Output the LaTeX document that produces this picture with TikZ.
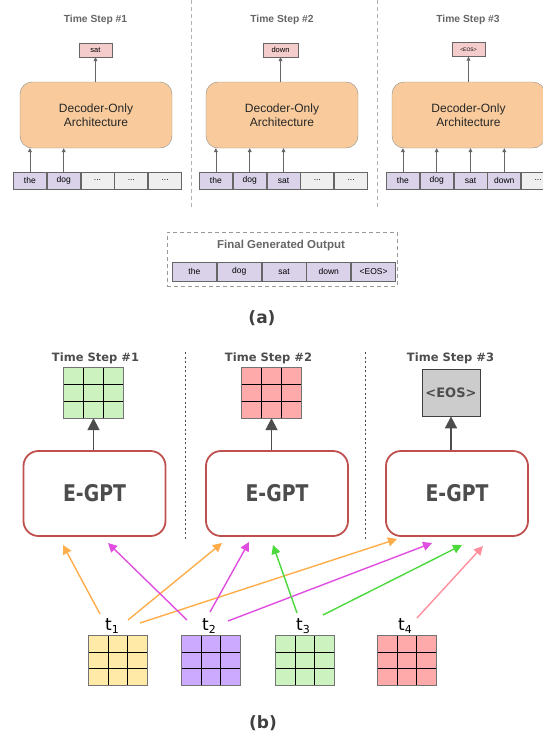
\documentclass[tikz,border=0pt]{standalone}
\usepackage{fontspec}
\setmainfont{Liberation Sans}
\newfontfamily\dvs{DejaVu Sans}
\usetikzlibrary{calc,arrows.meta}
\definecolor{gsix}{HTML}{666666}
\definecolor{gdark}{HTML}{4D4D4D}
\definecolor{decfill}{HTML}{F9CB9C}
\definecolor{outfill}{HTML}{F4CCCC}
\definecolor{tokpur}{HTML}{D9D2E9}
\definecolor{tokgray}{HTML}{EFEFEF}
\definecolor{egred}{HTML}{C0504D}
\definecolor{gridgreen}{HTML}{CCF2C0}
\definecolor{gridpink}{HTML}{FFAAAA}
\definecolor{gridyellow}{HTML}{FFEAA7}
\definecolor{gridpurple}{HTML}{CBAAFF}
\definecolor{eosgray}{HTML}{CCCCCC}
\definecolor{arrorange}{HTML}{FFAD4A}
\definecolor{arrmagenta}{HTML}{E04EE0}
\definecolor{arrgreen}{HTML}{4BD93B}
\definecolor{arrpink}{HTML}{FF8F9C}
\newcommand\gridlines[1]{%
  \foreach \k in {1,2} {%
    \draw[black, line width=0.8pt] ($(#1.north west)!\k/3!(#1.north east)$) -- ($(#1.south west)!\k/3!(#1.south east)$);
    \draw[black, line width=0.8pt] ($(#1.north west)!\k/3!(#1.south west)$) -- ($(#1.north east)!\k/3!(#1.south east)$);
  }%
  \draw[black!55, line width=0.8pt] (#1.north west) rectangle (#1.south east);%
}
\begin{document}
\begin{tikzpicture}[x=1pt,y=-1pt,
  atitle/.style={font=\bfseries\fontsize{10.3}{12}\selectfont, text=gsix},
  decbox/.style={draw=black!45, fill=decfill, rounded corners=12pt, minimum width=152pt, minimum height=66pt, inner sep=0, align=center, font=\fontsize{12}{13.5}\selectfont, text=black!85},
  outbox/.style={draw=gsix, fill=outfill, minimum width=33pt, minimum height=14pt, inner sep=0, font=\fontsize{7.5}{8}\selectfont},
  tokp/.style={draw=gsix, line width=0.8pt, fill=tokpur, minimum width=33pt, minimum height=17pt, inner sep=0, anchor=west, font=\fontsize{8.5}{9}\selectfont},
  tokg/.style={tokp, fill=tokgray},
  fincell/.style={tokp, minimum width=44pt, minimum height=19pt},
  aarrow/.style={draw=gsix, line width=0.7pt, -{Triangle[length=4pt,width=4pt]}},
  asep/.style={draw=black!30, dashed, line width=0.7pt, dash pattern=on 4pt off 3pt},
  btitle/.style={font=\dvs\bfseries\fontsize{11.5}{13}\selectfont, text=gdark},
  egpt/.style={draw=egred, line width=1.8pt, fill=white, rounded corners=15pt, minimum width=142pt, minimum height=85pt, inner sep=0, font=\dvs\bfseries\fontsize{23}{25}\selectfont, text=gdark},
  gbox/.style={minimum width=58pt, minimum height=49pt, inner sep=0, fill=#1},
  thick arr/.style={draw=gdark, line width=1.8pt, -{Triangle[length=12pt,width=12pt]}},
  carr/.style={draw=#1, line width=1.4pt, -{Triangle[length=9pt,width=9pt]}},
  tlab/.style={font=\dvs\fontsize{17}{17}\selectfont, inner sep=0, anchor=base},
  bsep/.style={draw=gdark, line width=1pt, dash pattern=on 2pt off 2.5pt}
]
\useasboundingbox (0,0) rectangle (543,740);

% ---------------- (a) ----------------
\draw[asep] (191,0) -- (191,210);
\draw[asep] (377,0) -- (377,210);

\node[atitle] (at1) at (95.5,19.5) {Time Step \#1};
\node[atitle] (at2) at (282,19.5) {Time Step \#2};
\node[atitle] (at3) at (468,19.5) {Time Step \#3};

\node[outbox] (o1) at (95.5,50) {sat};
\node[outbox, minimum width=35pt] (o2) at (280.5,50) {down};
\node[outbox, font=\fontsize{5}{6}\selectfont] (o3) at (468.5,49.5) {<EOS>};

\node[decbox] (d1) at (96,115) {Decoder-Only\\Architecture};
\node[decbox] (d2) at (282,115) {Decoder-Only\\Architecture};
\node[decbox, minimum width=153pt] (d3) at (468.5,115) {Decoder-Only\\Architecture};

\draw[aarrow] (d1.north -| o1.south) -- (o1.south);
\draw[aarrow] (d2.north -| o2.south) -- (o2.south);
\draw[aarrow] (d3.north -| o3.south) -- (o3.south);

% token rows
\node[tokp] (r1a) at (13,180.5) {the};
\node[tokp] (r1b) at (r1a.east) {dog};
\node[tokg] (r1c) at (r1b.east) {...};
\node[tokg] (r1d) at (r1c.east) {...};
\node[tokg] (r1e) at (r1d.east) {...};

\node[tokp] (r2a) at (199,180.5) {the};
\node[tokp] (r2b) at (r2a.east) {dog};
\node[tokp] (r2c) at (r2b.east) {sat};
\node[tokg] (r2d) at (r2c.east) {...};
\node[tokg] (r2e) at (r2d.east) {...};

\node[tokp] (r3a) at (386,180.5) {the};
\node[tokp] (r3b) at (r3a.east) {dog};
\node[tokp] (r3c) at (r3b.east) {sat};
\node[tokp] (r3d) at (r3c.east) {down};
\node[tokg] (r3e) at (r3d.east) {...};

\foreach \c in {r1a,r1b} \draw[aarrow] (\c.north) -- (\c.north |- d1.south);
\foreach \c in {r2a,r2b,r2c} \draw[aarrow] (\c.north) -- (\c.north |- d2.south);
\foreach \c in {r3a,r3b,r3c,r3d} \draw[aarrow] (\c.north) -- (\c.north |- d3.south);

% final output
\node[draw=black!40, dashed, dash pattern=on 4pt off 3pt, line width=0.7pt, minimum width=230pt, minimum height=54pt, inner sep=0] (fin) at (282,259) {};
\node[atitle, font=\bfseries\fontsize{11.5}{13}\selectfont] (fint) at (281,246) {Final Generated Output};
\node[fincell] (f1) at (172,271.5) {the};
\node[fincell] (f2) at (f1.east) {dog};
\node[fincell] (f3) at (f2.east) {sat};
\node[fincell] (f4) at (f3.east) {down};
\node[fincell] (f5) at (f4.east) {<EOS>};

\node[font=\dvs\bfseries\fontsize{17}{17}\selectfont, text=black!75] (la) at (262,318) {(a)};

% ---------------- (b) ----------------
\draw[bsep] (185,352) -- (185,540);
\draw[bsep] (365,352) -- (365,540);

\node[btitle] (bt1) at (95.5,358) {Time Step \#1};
\node[btitle] (bt2) at (268.5,358) {Time Step \#2};
\node[btitle] (bt3) at (450.5,358) {Time Step \#3};

\node[gbox=gridgreen, minimum width=59pt, minimum height=50pt] (g1) at (93.5,393) {};
\gridlines{g1}
\node[gbox=gridpink, minimum width=59pt, minimum height=50pt] (g2) at (271.5,393) {};
\gridlines{g2}
\node[draw=black!75, line width=0.8pt, fill=eosgray, minimum width=58pt, minimum height=47pt, inner sep=0, font=\dvs\bfseries\fontsize{13}{15}\selectfont, text=gdark] (g3) at (451,392.5) {<EOS>};

\node[egpt] (e1) at (94.5,493.5) {\scalebox{0.82}[1]{E-GPT}};
\node[egpt] (e2) at (277,493.5) {\scalebox{0.82}[1]{E-GPT}};
\node[egpt] (e3) at (457,493.5) {\scalebox{0.82}[1]{E-GPT}};

\draw[thick arr] (g1.south |- e1.north) -- (g1.south);
\draw[thick arr] (g2.south |- e2.north) -- (g2.south);
\draw[thick arr] (g3.south |- e3.north) -- (g3.south);

% token grids
\node[gbox=gridyellow] (q1) at (118,660.5) {};
\gridlines{q1}
\node[gbox=gridpurple] (q2) at (211,660.5) {};
\gridlines{q2}
\node[gbox=gridgreen] (q3) at (305,660.5) {};
\gridlines{q3}
\node[gbox=gridpink] (q4) at (407,660.5) {};
\gridlines{q4}

\node[tlab] (t1) at (112,630) {t\raisebox{-3pt}{\fontsize{11}{11}\selectfont 1}};
\node[tlab] (t2) at (209,630) {t\raisebox{-3pt}{\fontsize{11}{11}\selectfont 2}};
\node[tlab] (t3) at (303,630) {t\raisebox{-3pt}{\fontsize{11}{11}\selectfont 3}};
\node[tlab] (t4) at (405,630) {t\raisebox{-3pt}{\fontsize{11}{11}\selectfont 4}};

% arrow endpoints
\coordinate (o1s) at (100,614);  \coordinate (o1e) at (63,545);
\coordinate (o2s) at (128,620);  \coordinate (o2e) at (222,543);
\coordinate (o3s) at (140,623);  \coordinate (o3e) at (397,539);
\coordinate (m1s) at (187,620);  \coordinate (m1e) at (108,543);
\coordinate (m2s) at (210,612);  \coordinate (m2e) at (249,542);
\coordinate (m3s) at (228,621);  \coordinate (m3e) at (432,543);
\coordinate (n1s) at (297,613);  \coordinate (n1e) at (273,545);
\coordinate (n2s) at (323,615);  \coordinate (n2e) at (462,545);
\coordinate (p1s) at (417,618);  \coordinate (p1e) at (483,546);

\draw[carr=arrorange] (o1s) -- (o1e);
\draw[carr=arrorange] (o2s) -- (o2e);
\draw[carr=arrorange] (o3s) -- (o3e);
\draw[carr=arrmagenta] (m1s) -- (m1e);
\draw[carr=arrmagenta] (m2s) -- (m2e);
\draw[carr=arrmagenta] (m3s) -- (m3e);
\draw[carr=arrgreen] (n1s) -- (n1e);
\draw[carr=arrgreen] (n2s) -- (n2e);
\draw[carr=arrpink] (p1s) -- (p1e);

\node[font=\dvs\bfseries\fontsize{17}{17}\selectfont, text=black!75] (lb) at (263,723) {(b)};
\end{tikzpicture}
\end{document}
